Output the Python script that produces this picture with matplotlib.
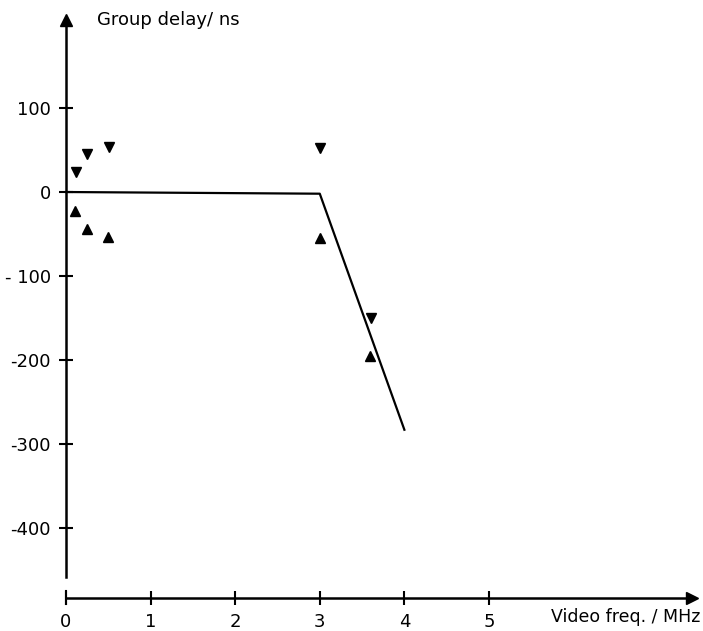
import matplotlib
matplotlib.use("Agg")
import matplotlib.pyplot as plt

# measured group delay (ns) vs video frequency (MHz)
upper_freq = [0.12, 0.25, 0.51, 3.0, 3.6]
upper_delay = [24, 45, 54, 52, -150]
lower_freq = [0.11, 0.25, 0.50, 3.0, 3.59]
lower_delay = [-23, -44, -53, -55, -195]

# fitted characteristic
line_freq = [0, 3, 4]
line_delay = [0, -2, -283]

x_ticks = [0, 1, 2, 3, 4, 5]
x_ticklabels = ["0", "1", "2", "3", "4", "5"]
y_ticks = [100, 0, -100, -200, -300, -400]
y_ticklabels = ["100", "0", "- 100", "-200", "-300", "-400"]

plt.rcParams['font.family'] = ['DejaVu Sans']

fig = plt.figure(figsize=(7.03, 6.31), dpi=100)
ax = fig.add_axes([0, 0, 1, 1])
ax.set_xlim(-0.78, 7.53)
ax.set_ylim(-522.6, 228.6)

x_axis_at = -483
ax.spines['top'].set_visible(False)
ax.spines['right'].set_visible(False)
ax.spines['left'].set_position(('data', 0))
ax.spines['bottom'].set_position(('data', x_axis_at))
ax.spines['left'].set_bounds(-458, 205)
ax.spines['bottom'].set_bounds(0, 7.4)
ax.spines['left'].set_linewidth(1.8)
ax.spines['bottom'].set_linewidth(1.8)

# arrow heads
ax.plot(0, 205, marker='^', color='black', markersize=8, clip_on=False)
ax.plot(7.4, x_axis_at, marker='>', color='black', markersize=8, clip_on=False)
ax.plot([0, 0], [x_axis_at - 8, x_axis_at + 8], color='black', lw=1.5)

ax.set_xticks(x_ticks)
ax.set_xticklabels(x_ticklabels)
ax.set_yticks(y_ticks)
ax.set_yticklabels(y_ticklabels)
ax.tick_params(direction='inout', length=10, width=1.5, labelsize=13, pad=6)

ax.plot(line_freq, line_delay, color='black', lw=1.6)
ax.plot(upper_freq, upper_delay, linestyle='none', marker='v', color='black', markersize=7)
ax.plot(lower_freq, lower_delay, linestyle='none', marker='^', color='black', markersize=7)

ax.text(0.37, 205, "Group delay/ ns", fontsize=13, va='center', ha='left')
ax.text(7.5, x_axis_at - 23, "Video freq. / MHz", fontsize=12.5, va='center', ha='right')

fig.savefig("out.png", dpi=100)
